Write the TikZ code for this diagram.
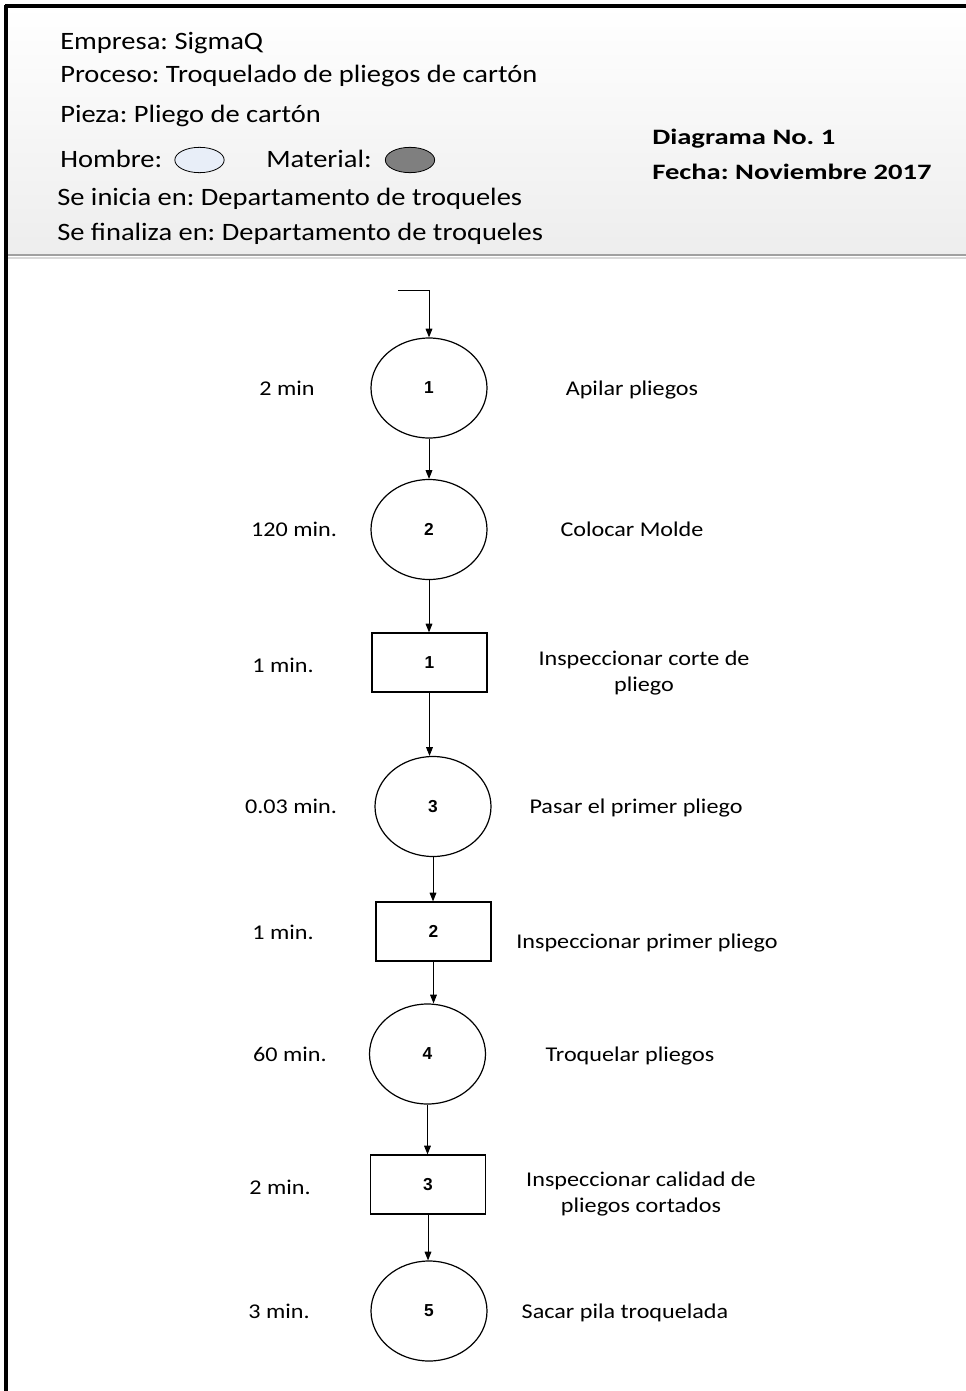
\documentclass[tikz,border=0pt]{standalone}
\usepackage{fontspec}
\setmainfont{Carlito}
\newfontfamily\hdrfont{Carlito}[FakeStretch=1.14]
\newfontfamily\hdrbold{Carlito}[FakeStretch=1.3,UprightFont=* Bold]
\newfontfamily\lblfont{Carlito}[FakeStretch=1.15]
\newfontfamily\numfont{Liberation Sans Bold}
\usetikzlibrary{arrows.meta,shapes.geometric}
\definecolor{hombrefill}{HTML}{E8EEF8}
\definecolor{materialfill}{HTML}{7F7F7F}
\definecolor{hdrline}{HTML}{A0A0A0}
\tikzset{
  op/.style={ellipse,draw,line width=0.9pt,minimum width=87pt,minimum height=75pt,inner sep=0pt,font=\numfont\fontsize{13}{15}\selectfont},
  insp/.style={rectangle,draw,line width=0.9pt,minimum width=86.25pt,minimum height=44.25pt,inner sep=0pt,font=\numfont\fontsize{13}{15}\selectfont},
  hdr/.style={anchor=base west,inner sep=0pt,font=\frenchspacing\hdrfont\fontsize{18.75}{22}\selectfont},
  hdrb/.style={anchor=base west,inner sep=0pt,font=\frenchspacing\hdrbold\fontsize{16.5}{20}\selectfont},
  tlabel/.style={anchor=base,inner sep=0pt,font=\frenchspacing\lblfont\fontsize{15.75}{19}\selectfont},
  dlabel/.style={anchor=center,inner sep=0pt,align=center,font=\frenchspacing\lblfont\fontsize{15.75}{19}\selectfont},
  flow/.style={line width=0.75pt,-{Triangle[length=6.5pt,width=5pt]}},
  legend/.style={ellipse,draw,line width=0.6pt,minimum width=37pt,minimum height=19pt,inner sep=0pt}
}
\begin{document}
\begin{tikzpicture}[x=0.75pt,y=-0.75pt]
\useasboundingbox (0,0) rectangle (966,1391);
% header background
\shade[top color=white,bottom color=black!7] (6,6) rectangle (966,255);
\draw[hdrline,line width=1.6pt] (6,255) -- (966,255);
\draw[black!15,line width=0.8pt] (6,258) -- (966,258);
% borders
\draw[line width=2.4pt] (5,6) -- (966,6);
\draw[line width=2.4pt] (6,5) -- (6,1391);
% header texts
\node[hdr] (empresa) at (60,50) {Empresa: SigmaQ};
\node[hdr] (proceso) at (60,83) {Proceso: Troquelado de pliegos de cartón};
\node[hdr] (pieza) at (60,123) {Pieza: Pliego de cartón};
\node[hdr] (hombre) at (60,167) {Hombre:};
\node[legend,fill=hombrefill] (hombreel) at (199.5,160) {};
\node[hdr] (material) at (266,167) {Material:};
\node[legend,fill=materialfill] (materialel) at (410,160) {};
\node[hdr] (inicia) at (57,205) {Se inicia en: Departamento de troqueles};
\node[hdr] (finaliza) at (57,240) {Se finaliza en: Departamento de troqueles};
\node[hdrb] (diagrama) at (652,145) {Diagrama No. 1};
\node[hdrb] (fecha) at (652,180) {Fecha: Noviembre 2017};
% flow shapes
\node[op] (e1) at (429,388) {1};
\node[op] (e2) at (429,529.5) {2};
\node[insp] (r1) at (429.5,662.5) {1};
\node[op] (e3) at (433,806.5) {3};
\node[insp] (r2) at (433.5,931.5) {2};
\node[op] (e4) at (427.5,1054) {4};
\node[insp] (r3) at (428,1184.5) {3};
\node[op] (e5) at (429,1311) {5};
% start connector
\coordinate (s0) at (398,290);
\coordinate (s1) at (429,290);
\draw[flow] (s0) -- (s1) -- (e1.north);
% connectors
\draw[flow] (e1.south) -- (e1.south |- e2.north);
\draw[flow] (e2.south) -- (e2.south |- r1.north);
\draw[flow] (r1.south) -- (r1.south |- e3.north);
\draw[flow] (e3.south) -- (e3.south |- r2.north);
\draw[flow] (r2.south) -- (r2.south |- e4.north);
\draw[flow] (e4.south) -- (e4.south |- r3.north);
\draw[flow] (r3.south) -- (r3.south |- e5.north);
% time labels
\node[tlabel] (t1) at (287,395) {2 min};
\node[tlabel] (t2) at (294,536) {120 min.};
\node[tlabel] (t3) at (283,672) {1 min.};
\node[tlabel] (t4) at (291,813) {0.03 min.};
\node[tlabel] (t5) at (283,939) {1 min.};
\node[tlabel] (t6) at (290,1061) {60 min.};
\node[tlabel] (t7) at (280,1194) {2 min.};
\node[tlabel] (t8) at (279,1318) {3 min.};
% descriptions
\node[tlabel] (d1) at (632,395) {Apilar pliegos};
\node[tlabel] (d2) at (632,536) {Colocar Molde};
\node[dlabel] (d3) at (644,673) {Inspeccionar corte de\\pliego};
\node[tlabel] (d4) at (636,813) {Pasar el primer pliego};
\node[tlabel] (d5) at (647,948) {Inspeccionar primer pliego};
\node[tlabel] (d6) at (630,1061) {Troquelar pliegos};
\node[dlabel] (d7) at (641,1194) {Inspeccionar calidad de\\pliegos cortados};
\node[tlabel] (d8) at (625,1318) {Sacar pila troquelada};
\end{tikzpicture}
\end{document}
